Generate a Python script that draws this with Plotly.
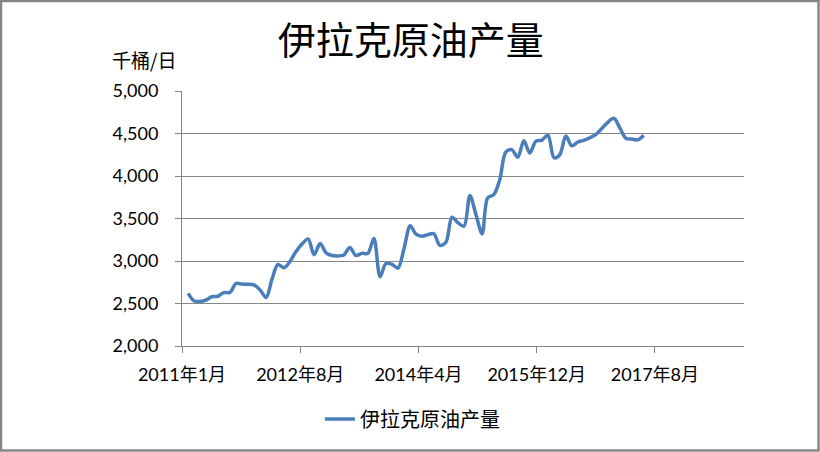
import datetime
import pandas as pd
import plotly.graph_objects as go

# monthly Iraqi crude output, 千桶/日, 2011-01 .. 2017-05
months = pd.date_range('2011-01-01', periods=77, freq='MS')
production = [
  2620, 2530, 2525, 2540, 2580, 2585, 2628, 2630, 2735, 2728, 2727, 2720,
  2660, 2570, 2780, 2960, 2920, 2995, 3110, 3200, 3260, 3075, 3205, 3095,
  3065, 3060, 3070, 3160, 3065, 3090, 3090, 3265, 2815, 2970, 2960, 2915,
  3150, 3415, 3320, 3290, 3310, 3320, 3185, 3220, 3515, 3450, 3410, 3770,
  3545, 3320, 3740, 3780, 3950, 4280, 4310, 4220, 4415, 4270, 4410, 4420,
  4480, 4215, 4250, 4470, 4355, 4400, 4420, 4450, 4490, 4560, 4635, 4680,
  4560, 4440, 4435, 4425, 4480,
]
tick_labels = ['2011年1月', '2012年8月', '2014年4月', '2015年12月', '2017年8月']
series_name = '伊拉克原油产量'

grid = '#868686'
cjk = 'Noto Sans CJK SC'

# excel style date axis: major unit 600 days
axis_start = months[0] - datetime.timedelta(days=31)
tick_vals = [axis_start + datetime.timedelta(days=600 * k) for k in range(len(tick_labels))]
axis_end = axis_start + datetime.timedelta(days=2852)

fig = go.Figure()
fig.add_trace(go.Scatter(
  x=months, y=production, mode='lines', name=series_name,
  line=dict(color='#4a7ebb', width=3.5, shape='spline', smoothing=0.9),
))

fig.update_layout(
  width=820, height=452,
  margin=dict(l=182, r=76, t=91, b=106),
  paper_bgcolor='white', plot_bgcolor='white',
  font=dict(family=f'Lato, {cjk}', size=18, color='black'),
  title=dict(text=series_name, x=0.501, y=0.91, xanchor='center', yanchor='middle',
             font=dict(family=cjk, size=38, color='black')),
  showlegend=True,
  legend=dict(orientation='h', x=0.41, y=-0.286, xanchor='center', yanchor='middle',
              font=dict(family=cjk, size=20, color='black')),
)
fig.update_xaxes(
  type='date', range=[axis_start, axis_end],
  tickvals=tick_vals, ticktext=tick_labels,
  showgrid=False, showline=True, linecolor=grid, linewidth=1,
  ticks='outside', ticklen=6, tickcolor=grid, ticklabelstandoff=6,
  tickfont=dict(size=18),
)
fig.update_yaxes(
  range=[2000, 5000], dtick=500, tickformat=',',
  showgrid=True, gridcolor=grid, gridwidth=1,
  showline=True, linecolor=grid, linewidth=1,
  ticks='outside', ticklen=6, tickcolor=grid, ticklabelstandoff=13,
  tickfont=dict(size=18), zeroline=False,
)

fig.add_annotation(text='千桶/日', xref='paper', yref='paper', x=-0.068, y=1.122,
                   xanchor='center', yanchor='middle',
                   showarrow=False, font=dict(family=cjk, size=19, color='black'))

# outer chart border
fig.add_shape(type='rect', xref='paper', yref='paper',
              x0=(1 - 182) / 562, x1=(818.5 - 182) / 562,
              y0=(346 - 450.5) / 255, y1=(346 - 1) / 255,
              line=dict(color=grid, width=2.5))

# drop the default page margin so the figure sits at the window's corner
fig.write_html('out.html', config={'displayModeBar': False},
               post_script="document.body.style.margin='0';")
